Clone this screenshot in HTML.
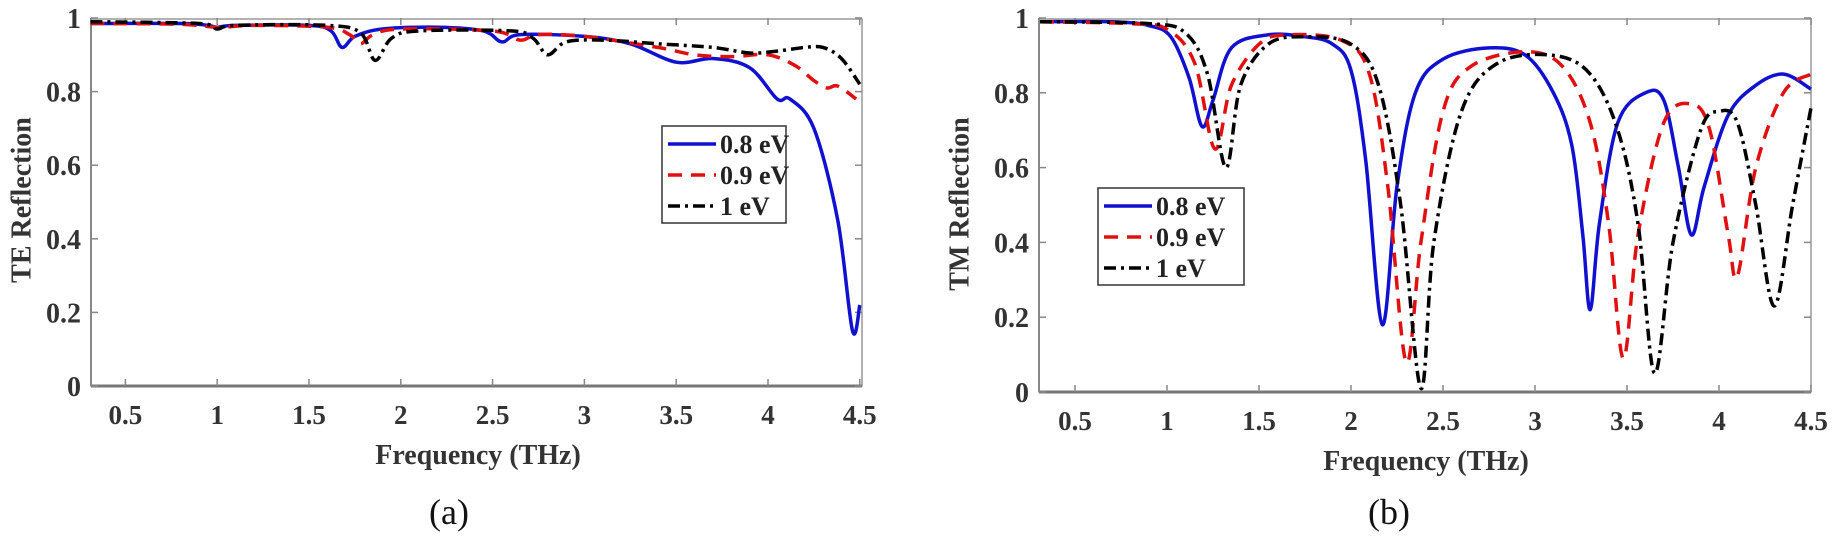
<!DOCTYPE html>
<html><head><meta charset="utf-8"><style>
html,body{margin:0;padding:0;background:#fff;}
svg{display:block;font-family:"Liberation Serif",serif;}
</style></head><body>
<svg id="s" width="1838" height="536" viewBox="0 0 1838 536" xmlns="http://www.w3.org/2000/svg">
<rect width="1838" height="536" fill="#fff"/>
<g id="g"></g>
<text x="22" y="200" transform="rotate(-90 22 200)" text-anchor="middle" dominant-baseline="central" font-weight="bold" font-size="28" fill="#333">TE Reflection</text>
<text x="960" y="204" transform="rotate(-90 960 204)" text-anchor="middle" dominant-baseline="central" font-weight="bold" font-size="28" fill="#333">TM Reflection</text>
<text x="478" y="464" text-anchor="middle" font-weight="bold" font-size="28" fill="#333">Frequency (THz)</text>
<text x="1426" y="470" text-anchor="middle" font-weight="bold" font-size="28" fill="#333">Frequency (THz)</text>
<text x="449" y="524" text-anchor="middle" font-size="36" fill="#111">(a)</text>
<text x="1389" y="524" text-anchor="middle" font-size="36" fill="#111">(b)</text>
</svg>
<script>
const NS="http://www.w3.org/2000/svg",g=document.getElementById('g');
function el(t,a,p){const e=document.createElementNS(NS,t);for(const k in a)e.setAttribute(k,a[k]);(p||g).appendChild(e);return e;}
function cr(pts){let d="M"+pts[0][0].toFixed(1)+","+pts[0][1].toFixed(1);
for(let i=0;i<pts.length-1;i++){const p0=pts[Math.max(0,i-1)],p1=pts[i],p2=pts[i+1],p3=pts[Math.min(pts.length-1,i+2)];
const c1=[p1[0]+(p2[0]-p0[0])/6,p1[1]+(p2[1]-p0[1])/6],c2=[p2[0]-(p3[0]-p1[0])/6,p2[1]-(p3[1]-p1[1])/6];
d+="C"+c1.map(v=>v.toFixed(1))+" "+c2.map(v=>v.toFixed(1))+" "+p2[0].toFixed(1)+","+p2[1].toFixed(1);}return d;}
function panel(P,series,leg){
 const X=f=>P.x05+(f-0.5)*P.k, Y=r=>P.y0-(P.y0-P.y1)*r;
 el('rect',{x:P.l,y:P.y1+1,width:P.r-P.l,height:P.y0-P.y1-1,fill:'none',stroke:'#999','stroke-width':1.5});
 el('line',{x1:P.l,y1:P.y0,x2:P.r,y2:P.y0,stroke:'#777','stroke-width':3});
 el('line',{x1:P.l,y1:P.y1,x2:P.l,y2:P.y0,stroke:'#888','stroke-width':2});
 for(let f=0.5;f<=4.51;f+=0.5){const x=X(f);
  el('line',{x1:x,y1:P.y0,x2:x,y2:P.y0-7,stroke:'#888','stroke-width':1.5});
  el('line',{x1:x,y1:P.y1,x2:x,y2:P.y1+7,stroke:'#888','stroke-width':1.5});
  const t=el('text',{x:x,y:P.y0+38,'text-anchor':'middle','font-weight':'bold','font-size':27,fill:'#333'});t.textContent=(Math.round(f*10)/10).toString();}
 for(let i=0;i<=5;i++){const r=i*0.2,y=Y(r);
  el('line',{x1:P.l,y1:y,x2:P.l+7,y2:y,stroke:'#888','stroke-width':1.5});
  el('line',{x1:P.r,y1:y,x2:P.r-7,y2:y,stroke:'#888','stroke-width':1.5});
  const t=el('text',{x:P.l-10,y:y+10,'text-anchor':'end','font-weight':'bold','font-size':28,fill:'#333'});t.textContent=i==0?'0':i==5?'1':r.toFixed(1);}
 const styles=[{stroke:'#1010d0'},{stroke:'#e01010','stroke-dasharray':'14 9'},{stroke:'#000','stroke-dasharray':'12 5 3 5'}];
 series.forEach((s,i)=>{const a=Object.assign({d:cr(s.map(p=>[X(p[0]),Y(p[1])])),fill:'none','stroke-width':3.5,'stroke-linejoin':'round'},styles[i]);el('path',a);});
 el('rect',{x:leg.x,y:leg.y,width:leg.w,height:leg.h,fill:'#fff',stroke:'#333','stroke-width':1.5});
 ['0.8 eV','0.9 eV','1 eV'].forEach((n,i)=>{const y=leg.y+18+i*31;
  el('line',Object.assign({x1:leg.x+6,y1:y,x2:leg.x+54,y2:y,'stroke-width':3.5},styles[i]));
  const t=el('text',{x:leg.x+58,y:y+9,'font-weight':'bold','font-size':26,fill:'#222'});t.textContent=n;});
}
const A={l:91,r:862,y0:386,y1:18,x05:125.4,k:183.6};
panel(A,[
[[0.31,0.985],[0.8,0.985],[0.95,0.98],[1.0,0.975],[1.1,0.98],[1.5,0.98],[1.62,0.965],[1.68,0.92],[1.75,0.95],[1.9,0.97],[2.2,0.975],[2.45,0.965],[2.55,0.935],[2.65,0.955],[3.0,0.95],[3.25,0.93],[3.5,0.88],[3.7,0.89],[3.9,0.865],[4.05,0.78],[4.12,0.78],[4.25,0.7],[4.38,0.45],[4.46,0.15],[4.5,0.22]],
[[0.31,0.985],[0.8,0.983],[1.0,0.975],[1.2,0.98],[1.6,0.975],[1.72,0.955],[1.78,0.93],[1.85,0.955],[2.0,0.97],[2.5,0.965],[2.65,0.94],[2.75,0.955],[3.0,0.95],[3.4,0.92],[3.6,0.9],[3.8,0.895],[4.0,0.9],[4.15,0.87],[4.25,0.83],[4.32,0.81],[4.38,0.815],[4.48,0.78]],
[[0.31,0.99],[0.9,0.985],[1.0,0.97],[1.1,0.98],[1.6,0.98],[1.78,0.96],[1.86,0.885],[1.95,0.945],[2.1,0.965],[2.6,0.965],[2.72,0.945],[2.8,0.9],[2.9,0.935],[3.1,0.94],[3.4,0.93],[3.7,0.92],[3.9,0.905],[4.05,0.91],[4.2,0.92],[4.3,0.92],[4.4,0.89],[4.5,0.82]]
],{x:662,y:126,w:124,h:97});
const B={l:1039,r:1811,y0:392,y1:18,x05:1075,k:184};
panel(B,[
[[0.31,0.99],[0.7,0.99],[0.9,0.98],[1.02,0.95],[1.12,0.84],[1.19,0.71],[1.25,0.78],[1.35,0.92],[1.55,0.955],[1.75,0.95],[1.9,0.93],[2.0,0.86],[2.08,0.62],[2.17,0.18],[2.25,0.55],[2.35,0.8],[2.5,0.89],[2.75,0.92],[2.95,0.9],[3.1,0.8],[3.2,0.66],[3.26,0.42],[3.3,0.22],[3.35,0.45],[3.45,0.72],[3.6,0.8],[3.7,0.78],[3.78,0.6],[3.85,0.42],[3.92,0.55],[4.05,0.74],[4.2,0.82],[4.35,0.85],[4.5,0.81]],
[[0.31,0.99],[0.8,0.985],[1.0,0.97],[1.15,0.88],[1.26,0.65],[1.35,0.82],[1.5,0.93],[1.65,0.955],[1.95,0.94],[2.1,0.85],[2.2,0.55],[2.3,0.08],[2.38,0.4],[2.5,0.75],[2.65,0.87],[2.95,0.91],[3.15,0.87],[3.3,0.72],[3.4,0.45],[3.48,0.09],[3.56,0.42],[3.7,0.72],[3.85,0.77],[3.95,0.7],[4.05,0.42],[4.1,0.31],[4.2,0.6],[4.35,0.8],[4.5,0.85]],
[[0.31,0.99],[0.9,0.985],[1.1,0.96],[1.22,0.85],[1.32,0.6],[1.4,0.82],[1.55,0.93],[1.75,0.95],[2.0,0.93],[2.15,0.82],[2.27,0.5],[2.38,0.01],[2.45,0.4],[2.6,0.75],[2.8,0.88],[3.1,0.9],[3.3,0.85],[3.45,0.7],[3.56,0.45],[3.65,0.05],[3.75,0.4],[3.9,0.7],[4.0,0.75],[4.1,0.72],[4.2,0.5],[4.3,0.23],[4.4,0.5],[4.5,0.76]]
],{x:1098,y:188,w:146,h:97});
</script>
</body></html>
